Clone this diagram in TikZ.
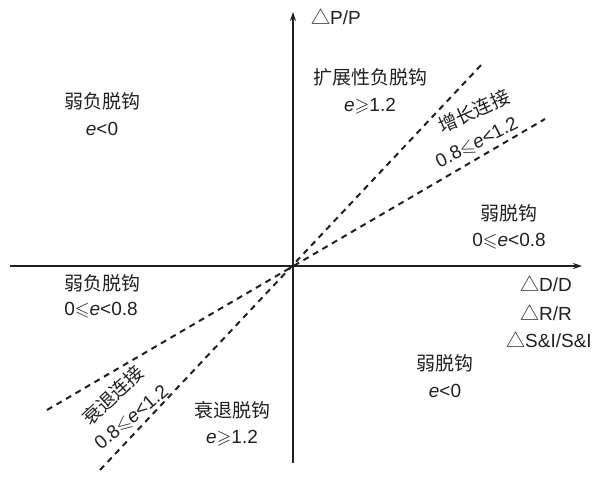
\documentclass[tikz,border=0pt]{standalone}
\usepackage{amssymb}
\usepackage{fontspec}
\setmainfont{Liberation Sans}
\newfontfamily\cjk{Noto Sans CJK SC}
\usetikzlibrary{arrows.meta}
\definecolor{ink}{HTML}{231F20}
\newcommand{\tri}{{\cjk △}}
\newcommand{\geqs}{\ensuremath{\geqslant}}
\newcommand{\leqs}{\ensuremath{\leqslant}}
\begin{document}
\begin{tikzpicture}[x=1pt,y=-1pt,
  lab/.style={font=\fontsize{19}{22}\selectfont, text=ink, inner sep=0pt, anchor=center},
  axis/.style={draw=ink, line width=1.1pt, -{Stealth[length=9pt,width=6pt]}},
  dline/.style={draw=ink, line width=2pt, dash pattern=on 6pt off 5pt}]
\useasboundingbox (0,0) rectangle (598,491);
\coordinate (O) at (293,266);
\coordinate (xl) at (10,266);
\coordinate (xr) at (582,266);
\coordinate (yb) at (293,463);
\coordinate (yt) at (293,12);
\coordinate (s1) at (483,63);
\coordinate (s2) at (100,470);
\coordinate (f1) at (545,119);
\coordinate (f2) at (47,410);
\draw[axis] (xl) -- (xr);
\draw[axis] (yb) -- (yt);
\draw[dline] (s2) -- (s1);
\draw[dline] (f2) -- (f1);
\node[lab, anchor=west] (py) at (311,17) {\tri P/P};
\node[lab] (q1a) at (370,77) {\cjk 扩展性负脱钩};
\node[lab] (q1b) at (370,106) {\textit{e}\geqs1.2};
\node[lab] (q2a) at (102,101) {\cjk 弱负脱钩};
\node[lab] (q2b) at (102,129) {\textit{e}<0};
\node[lab, rotate=24] (gc) at (474,111) {\cjk 增长连接};
\node[lab, rotate=27] (gcr) at (477,143) {0.8\leqs\textit{e}<1.2};
\node[lab] (wa) at (509,213) {\cjk 弱脱钩};
\node[lab] (wb) at (509,241) {0\leqs\textit{e}<0.8};
\node[lab] (wna) at (102,283) {\cjk 弱负脱钩};
\node[lab] (wnb) at (101,310) {0\leqs\textit{e}<0.8};
\node[lab] (dd) at (546,284) {\tri D/D};
\node[lab] (rr) at (546,313) {\tri R/R};
\node[lab] (si) at (549,340) {\tri S\&I/S\&I};
\node[lab] (w2a) at (445,363) {\cjk 弱脱钩};
\node[lab] (w2b) at (445,391) {\textit{e}<0};
\node[lab, rotate=43] (sc) at (113,395) {\cjk 衰退连接};
\node[lab, rotate=40] (scr) at (132,418) {0.8\leqs\textit{e}<1.2};
\node[lab] (sa) at (232,410) {\cjk 衰退脱钩};
\node[lab] (sb) at (232,438) {\textit{e}\geqs1.2};
\end{tikzpicture}
\end{document}
